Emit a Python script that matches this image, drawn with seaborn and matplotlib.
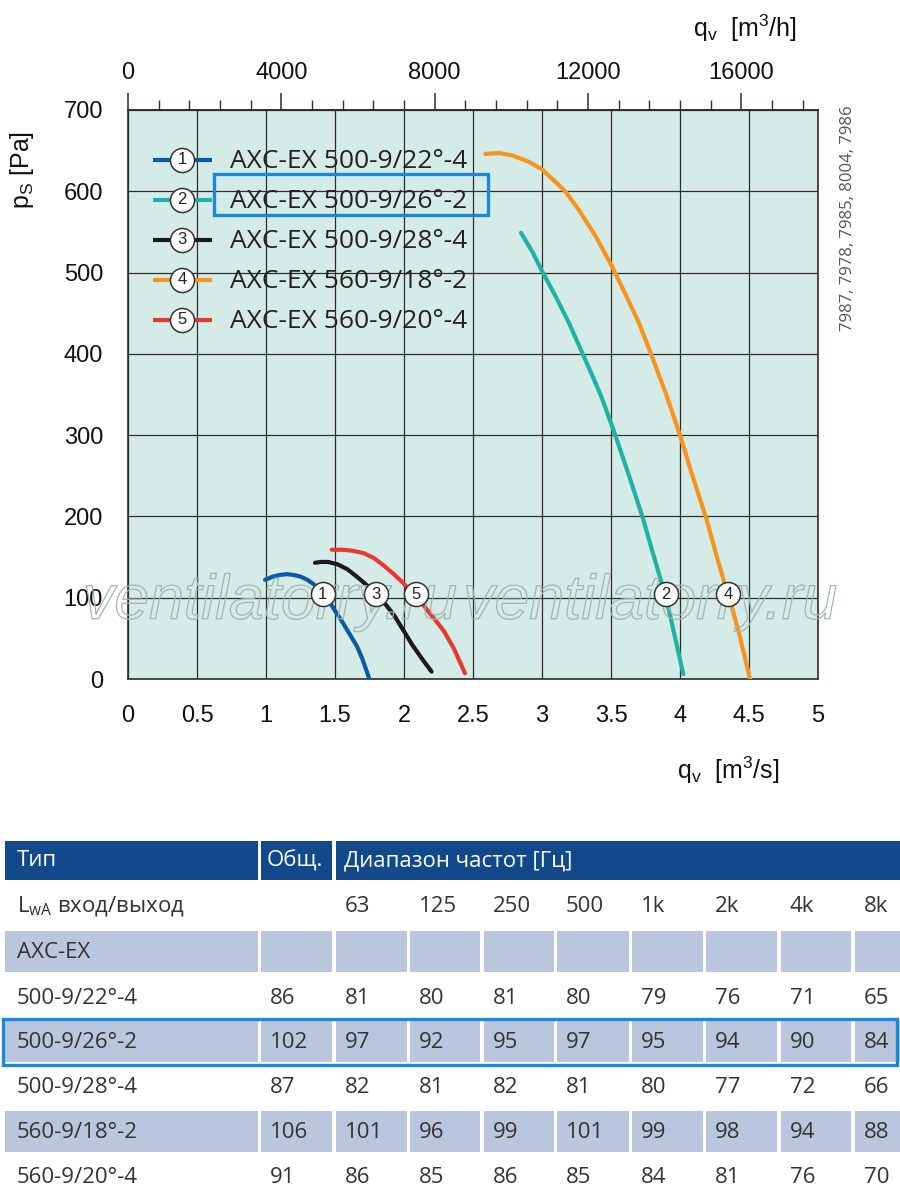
#!/usr/bin/env python3
# fan curves AXC-EX + sound power table
import matplotlib
matplotlib.use("Agg")
import matplotlib.pyplot as plt
import matplotlib.patheffects as pe
from matplotlib.patches import Rectangle
from matplotlib.ticker import MultipleLocator, FuncFormatter
import numpy as np
import pandas as pd
import seaborn as sns

# ---------------------------------------------------------------- DATA
fan_names = ["AXC-EX 500-9/22°-4", "AXC-EX 500-9/26°-2", "AXC-EX 500-9/28°-4",
             "AXC-EX 560-9/18°-2", "AXC-EX 560-9/20°-4"]
fan_colors = ["#0b5aa6", "#1fb3a3", "#1a1a1a", "#f7941d", "#e8392f"]

# q in m3/s, p in Pa
q1 = [0.993, 1.05, 1.10, 1.15, 1.20, 1.25, 1.30, 1.35, 1.41, 1.46, 1.50, 1.55, 1.60,
      1.66, 1.70, 1.749]
p1 = [122, 126, 128, 129, 128, 126, 122, 116, 106, 95, 84, 71, 57, 40, 24, 0]
q2 = [2.848, 2.932, 3.0, 3.101, 3.198, 3.295, 3.391, 3.44, 3.531, 3.633, 3.729, 3.80,
      3.862, 3.905, 3.959, 4.024]
p2 = [549, 525, 502, 470, 437, 400, 363, 343, 300, 249, 199, 157, 121, 96, 55, 6]
q3 = [1.355, 1.40, 1.45, 1.52, 1.59, 1.657, 1.72, 1.80, 1.87, 1.93, 1.995, 2.06, 2.13, 2.20]
p3 = [143, 144, 144, 141, 135, 126, 117, 105, 91, 78, 60, 42, 25, 9]
q4 = [2.589, 2.691, 2.787, 2.908, 3.0, 3.101, 3.174, 3.271, 3.391, 3.5, 3.609, 3.705,
      3.79, 3.90, 4.0, 4.092, 4.188, 4.261, 4.321, 4.37, 4.43, 4.507]
p4 = [646, 647, 644, 636, 627, 611, 599, 576, 544, 510, 472, 437, 400, 350, 300, 249,
      199, 154, 119, 92, 55, 0]
q5 = [1.476, 1.55, 1.62, 1.705, 1.78, 1.85, 1.92, 1.995, 2.07, 2.14, 2.21, 2.285, 2.36, 2.442]
p5 = [159, 159, 158, 155, 149, 140, 130, 118, 104, 91, 76, 60, 38, 7]

# circled numbers on the curves
mark_q = [1.41, 3.90, 1.80, 4.35, 2.09]
mark_p = [104, 104, 104, 104, 104]

# sound power table
band_labels = ["63", "125", "250", "500", "1k", "2k", "4k", "8k"]
table_types = ["500-9/22°-4", "500-9/26°-2", "500-9/28°-4", "560-9/18°-2", "560-9/20°-4"]
lwa_total = [86, 102, 87, 106, 91]
lwa_22_4 = [81, 80, 81, 80, 79, 76, 71, 65]
lwa_26_2 = [97, 92, 95, 97, 95, 94, 90, 84]
lwa_28_4 = [82, 81, 82, 81, 80, 77, 72, 66]
lwa_18_2 = [101, 96, 99, 101, 99, 98, 94, 88]
lwa_20_4 = [86, 85, 86, 85, 84, 81, 76, 70]
lwa_bands = [lwa_22_4, lwa_26_2, lwa_28_4, lwa_18_2, lwa_20_4]

# ---------------------------------------------------------------- STYLE
sns.set_theme(style="white")
plt.rcParams["font.family"] = ["Liberation Sans", "DejaVu Sans"]
plt.rcParams["mathtext.default"] = "regular"
TXT = ["Open Sans", "DejaVu Sans"]
BG = "#d5ebe7"
HIGHLIGHT = "#1a8ad8"
INK = "#2e2e2e"

frames = []
for name, q, p in zip(fan_names, [q1, q2, q3, q4, q5], [p1, p2, p3, p4, p5]):
    frames.append(pd.DataFrame({"q": q, "p": p, "fan": name}))
df = pd.concat(frames, ignore_index=True)

fig = plt.figure(figsize=(9, 12.03), dpi=100)
W, H = 900, 1203
ax = fig.add_axes([128 / W, 1 - 679 / H, 690 / W, 569 / H])
ax.set_facecolor(BG)

sns.lineplot(data=df, x="q", y="p", hue="fan", palette=dict(zip(fan_names, fan_colors)),
             sort=False, estimator=None, linewidth=3.0, legend=False, ax=ax, zorder=3)

ax.set_xlim(0, 5)
ax.set_ylim(0, 700)
ax.xaxis.set_major_locator(MultipleLocator(0.5))
ax.xaxis.set_minor_locator(MultipleLocator(0.1))
ax.yaxis.set_major_locator(MultipleLocator(100))
ax.yaxis.set_minor_locator(MultipleLocator(20))
ax.xaxis.set_major_formatter(FuncFormatter(lambda v, _: f"{v:g}"))
ax.set_axisbelow(True)
ax.grid(True, which="major", color=INK, linewidth=0.9)
for sp in ax.spines.values():
    sp.set_color(INK)
    sp.set_linewidth(1.2)
ax.tick_params(which="major", direction="out", length=12, width=1.1, colors=INK,
               labelsize=17, labelcolor="#111")
ax.tick_params(which="minor", direction="out", length=7, width=1.0, colors=INK)
ax.tick_params(axis="x", which="major", pad=7)
ax.tick_params(axis="y", which="major", pad=6)
ax.set_xlabel("")
ax.set_ylabel("")

sec = ax.secondary_xaxis("top", functions=(lambda q: q * 3600, lambda h: h / 3600))
sec.set_xticks([0, 4000, 8000, 12000, 16000])
sec.xaxis.set_minor_locator(MultipleLocator(800))
sec.tick_params(which="major", direction="out", length=12, width=1.1, colors=INK,
                labelsize=17, labelcolor="#111", pad=7)
sec.tick_params(which="minor", direction="out", length=7, width=1.0, colors=INK)
sec.spines["top"].set_color(INK)

# circled numbers on curves
ax.scatter(mark_q, mark_p, s=300, facecolor="white", edgecolor="#333", linewidth=1.1, zorder=5)
for i, (mq, mp) in enumerate(zip(mark_q, mark_p)):
    ax.text(mq, mp, str(i + 1), ha="center", va="center", fontsize=12, color="#222", zorder=6)

# watermark (outlined)
for xc in [0.206, 0.757]:
    ax.text(xc, 0.135, "ventilatorry.ru", transform=ax.transAxes, ha="center", va="center",
            fontsize=45, style="italic", color="none", zorder=4,
            path_effects=[pe.Stroke(linewidth=0.9, foreground="#a4b4b2")])

# ---------------------------------------------------------------- OVERLAY (pixel coords)
ov = fig.add_axes([0, 0, 1, 1], zorder=5)
ov.set_xlim(0, W)
ov.set_ylim(H, 0)
ov.axis("off")
ov.patch.set_alpha(0)

# axis titles
ov.text(22, 170, "p$_S$ [Pa]", rotation=90, ha="center", va="center", fontsize=18, color="#111")
ov.text(728, 770, "q$_v$  [m$^3$/s]", ha="center", va="center", fontsize=18, color="#111")
ov.text(745, 28, "q$_v$  [m$^3$/h]", ha="center", va="center", fontsize=18, color="#111")

# legend
leg_y = [160, 200, 240, 280, 320]
for i, (name, col) in enumerate(zip(fan_names, fan_colors)):
    y = leg_y[i]
    ov.plot([153, 212], [y, y], color=col, lw=3.0, solid_capstyle="butt")
    ov.scatter([182], [y], s=300, facecolor="white", edgecolor="#333", linewidth=1.1, zorder=3)
    ov.text(182, y, str(i + 1), ha="center", va="center", fontsize=12, color="#222", zorder=4)
    ov.text(230, y + 1, name, ha="left", va="center", fontsize=19, color="#222", family=TXT)
ov.add_patch(Rectangle((214, 174), 274, 41, fill=False, edgecolor=HIGHLIGHT, lw=2.4))

# side code
fig.text(848 / W, 1 - 218 / H, "7987, 7978, 7985, 8004, 7986", rotation=90, ha="center",
         va="center", fontsize=12, color="#555", family=TXT)

# table
col_x0 = [5, 261, 336, 410, 484, 557, 632, 706, 781, 855]
col_x1 = [258, 332, 407, 480, 554, 629, 703, 777, 851, 900]
row_top = [885, 931, 977, 1021, 1066, 1111, 1156]
row_h = 41
HEAD = "#11498a"
SHADE = "#b9c6de"
TCOL = "#333333"
FS = 16

# header
ov.add_patch(Rectangle((col_x0[0], 841), col_x1[0] - col_x0[0], 39, color=HEAD, lw=0))
ov.add_patch(Rectangle((col_x0[1], 841), col_x1[1] - col_x0[1], 39, color=HEAD, lw=0))
ov.add_patch(Rectangle((col_x0[2], 841), col_x1[-1] - col_x0[2], 39, color=HEAD, lw=0))
ov.text(col_x0[0] + 12, 861, "Тип", ha="left", va="center", fontsize=FS, color="white", family=TXT)
ov.text(col_x0[1] + 6, 861, "Общ.", ha="left", va="center", fontsize=FS, color="white", family=TXT)
ov.text(col_x0[2] + 8, 861, "Диапазон частот [Гц]", ha="left", va="center", fontsize=FS,
        color="white", family=TXT)

rows = [["L$_{wA}$ вход/выход", ""] + band_labels, ["AXC-EX"] + [""] * 9]
for t, tot, vals in zip(table_types, lwa_total, lwa_bands):
    rows.append([t, str(tot)] + [str(v) for v in vals])
shaded = [False, True, False, True, False, True, False]

for r, cells in enumerate(rows):
    y0 = row_top[r]
    if shaded[r]:
        for c in range(len(col_x0)):
            ov.add_patch(Rectangle((col_x0[c], y0), col_x1[c] - col_x0[c], row_h,
                                   color=SHADE, lw=0))
    for c, s in enumerate(cells):
        if not s:
            continue
        xoff = 12 if c == 0 else 9
        ov.text(col_x0[c] + xoff, y0 + row_h / 2 + 1, s, ha="left", va="center",
                fontsize=FS, color=TCOL, family=TXT)

ov.add_patch(Rectangle((3, 1019), 894, 46, fill=False, edgecolor=HIGHLIGHT, lw=2.4))

fig.savefig("out.png", dpi=100)
